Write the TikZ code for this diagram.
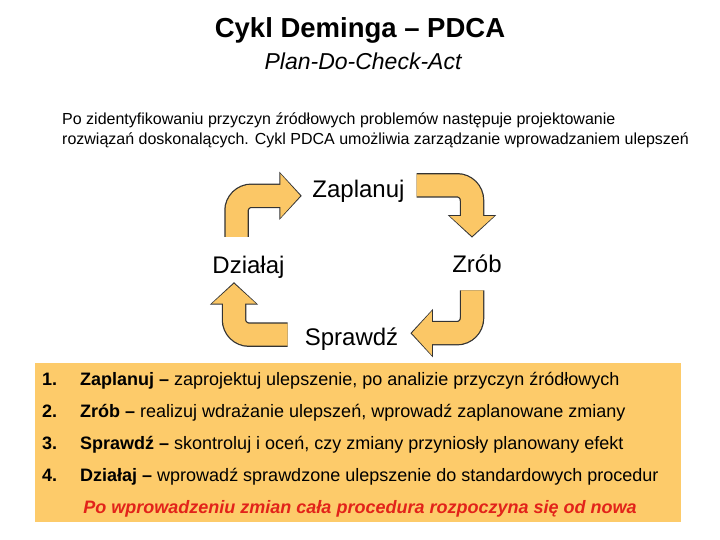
\documentclass[tikz,border=0pt]{standalone}
\usepackage{fontspec}
\setmainfont{Liberation Sans}
\usetikzlibrary{arrows.meta,positioning,calc}
\definecolor{pdcaorange}{HTML}{FBC766}
\definecolor{boxorange}{HTML}{FDCB6A}
\definecolor{pdcared}{HTML}{E2231A}
\newcommand{\fsz}[1]{\fontsize{#1}{#1}\selectfont}

\begin{document}
\begin{tikzpicture}[
			x=1pt,y=-1pt,
			every node/.style={inner sep=3pt},
			lbl/.style={anchor=base,font=\fsz{24}},
			item/.style={anchor=base west,inner sep=0pt,font=\fsz{18}},
			cyc/.style={line width=22pt,draw=pdcaorange,rounded corners=15pt,shorten >=1.5pt,
				-{Triangle[length=20pt 0 0,width=43pt 0 0]},
				preaction={draw=black!80,line width=24.5pt,shorten >=0pt,
					-{Triangle[length=22.5pt 0 0,width=47pt 0 0]}}}
			]
			\useasboundingbox[fill=white] (0,0) rectangle (720,540);
			% title
			\node[anchor=base,font=\bfseries\fsz{27.5}] (title) at (360,38) {Cykl Deminga – PDCA};
			\node[anchor=base,font=\itshape\fsz{23}] (sub) at (363,70) {Plan-Do-Check-Act};
			\node[item,font=\fsz{16}] (par1) at (62,125) {Po zidentyfikowaniu przyczyn źródłowych problemów następuje projektowanie};
			\node[item,font=\fsz{16}] (par2) at (62,145) {rozwiązań doskonalących. Cykl PDCA umożliwia zarządzanie wprowadzaniem ulepszeń};
			% cycle
			\node[lbl] (zap) at (358.5,198) {Zaplanuj};
			\node[lbl] (zrob) at (477,272) {Zrób};
			\node[lbl] (spr) at (351.5,345) {Sprawdź};
			\node[lbl] (dzi) at (248.5,273) {Działaj};
			\draw[cyc] ([xshift=-12pt,yshift=15.5pt]dzi.north) |- ([xshift=-7.5pt,yshift=-4pt]zap.west);
			\draw[cyc] ([xshift=9pt,yshift=6.5pt]zap.east) -| ([xshift=-5pt,yshift=13.5pt]zrob.north);
			\draw[cyc] ([xshift=-5pt,yshift=-15pt]zrob.south) |- ([xshift=9pt,yshift=5.5pt]spr.east);
			\draw[cyc] ([xshift=-14pt,yshift=4pt]spr.west) -| ([xshift=-14.5pt,yshift=-1pt]dzi.south);
			% steps
			\fill[boxorange] (35,363) rectangle (681,522);
			\node[item,font=\bfseries\fsz{18}] (n1) at (42,385) {1.};
			\node[item] (s1) at (80,385) {\textbf{Zaplanuj –} zaprojektuj ulepszenie, po analizie przyczyn źródłowych};
			\node[item,font=\bfseries\fsz{18}] (n2) at (42,417) {2.};
			\node[item] (s2) at (80,417) {\textbf{Zrób –} realizuj wdrażanie ulepszeń, wprowadź zaplanowane zmiany};
			\node[item,font=\bfseries\fsz{18}] (n3) at (42,449) {3.};
			\node[item] (s3) at (80,449) {\textbf{Sprawdź –} skontroluj i oceń, czy zmiany przyniosły planowany efekt};
			\node[item,font=\bfseries\fsz{18}] (n4) at (42,481) {4.};
			\node[item] (s4) at (80,481) {\textbf{Działaj –} wprowadź sprawdzone ulepszenie do standardowych procedur};
			\node[anchor=base,font=\bfseries\itshape\fsz{18},text=pdcared] (again) at (360,513) {Po wprowadzeniu zmian cała procedura rozpoczyna się od nowa};
		\end{tikzpicture}
\end{document}
